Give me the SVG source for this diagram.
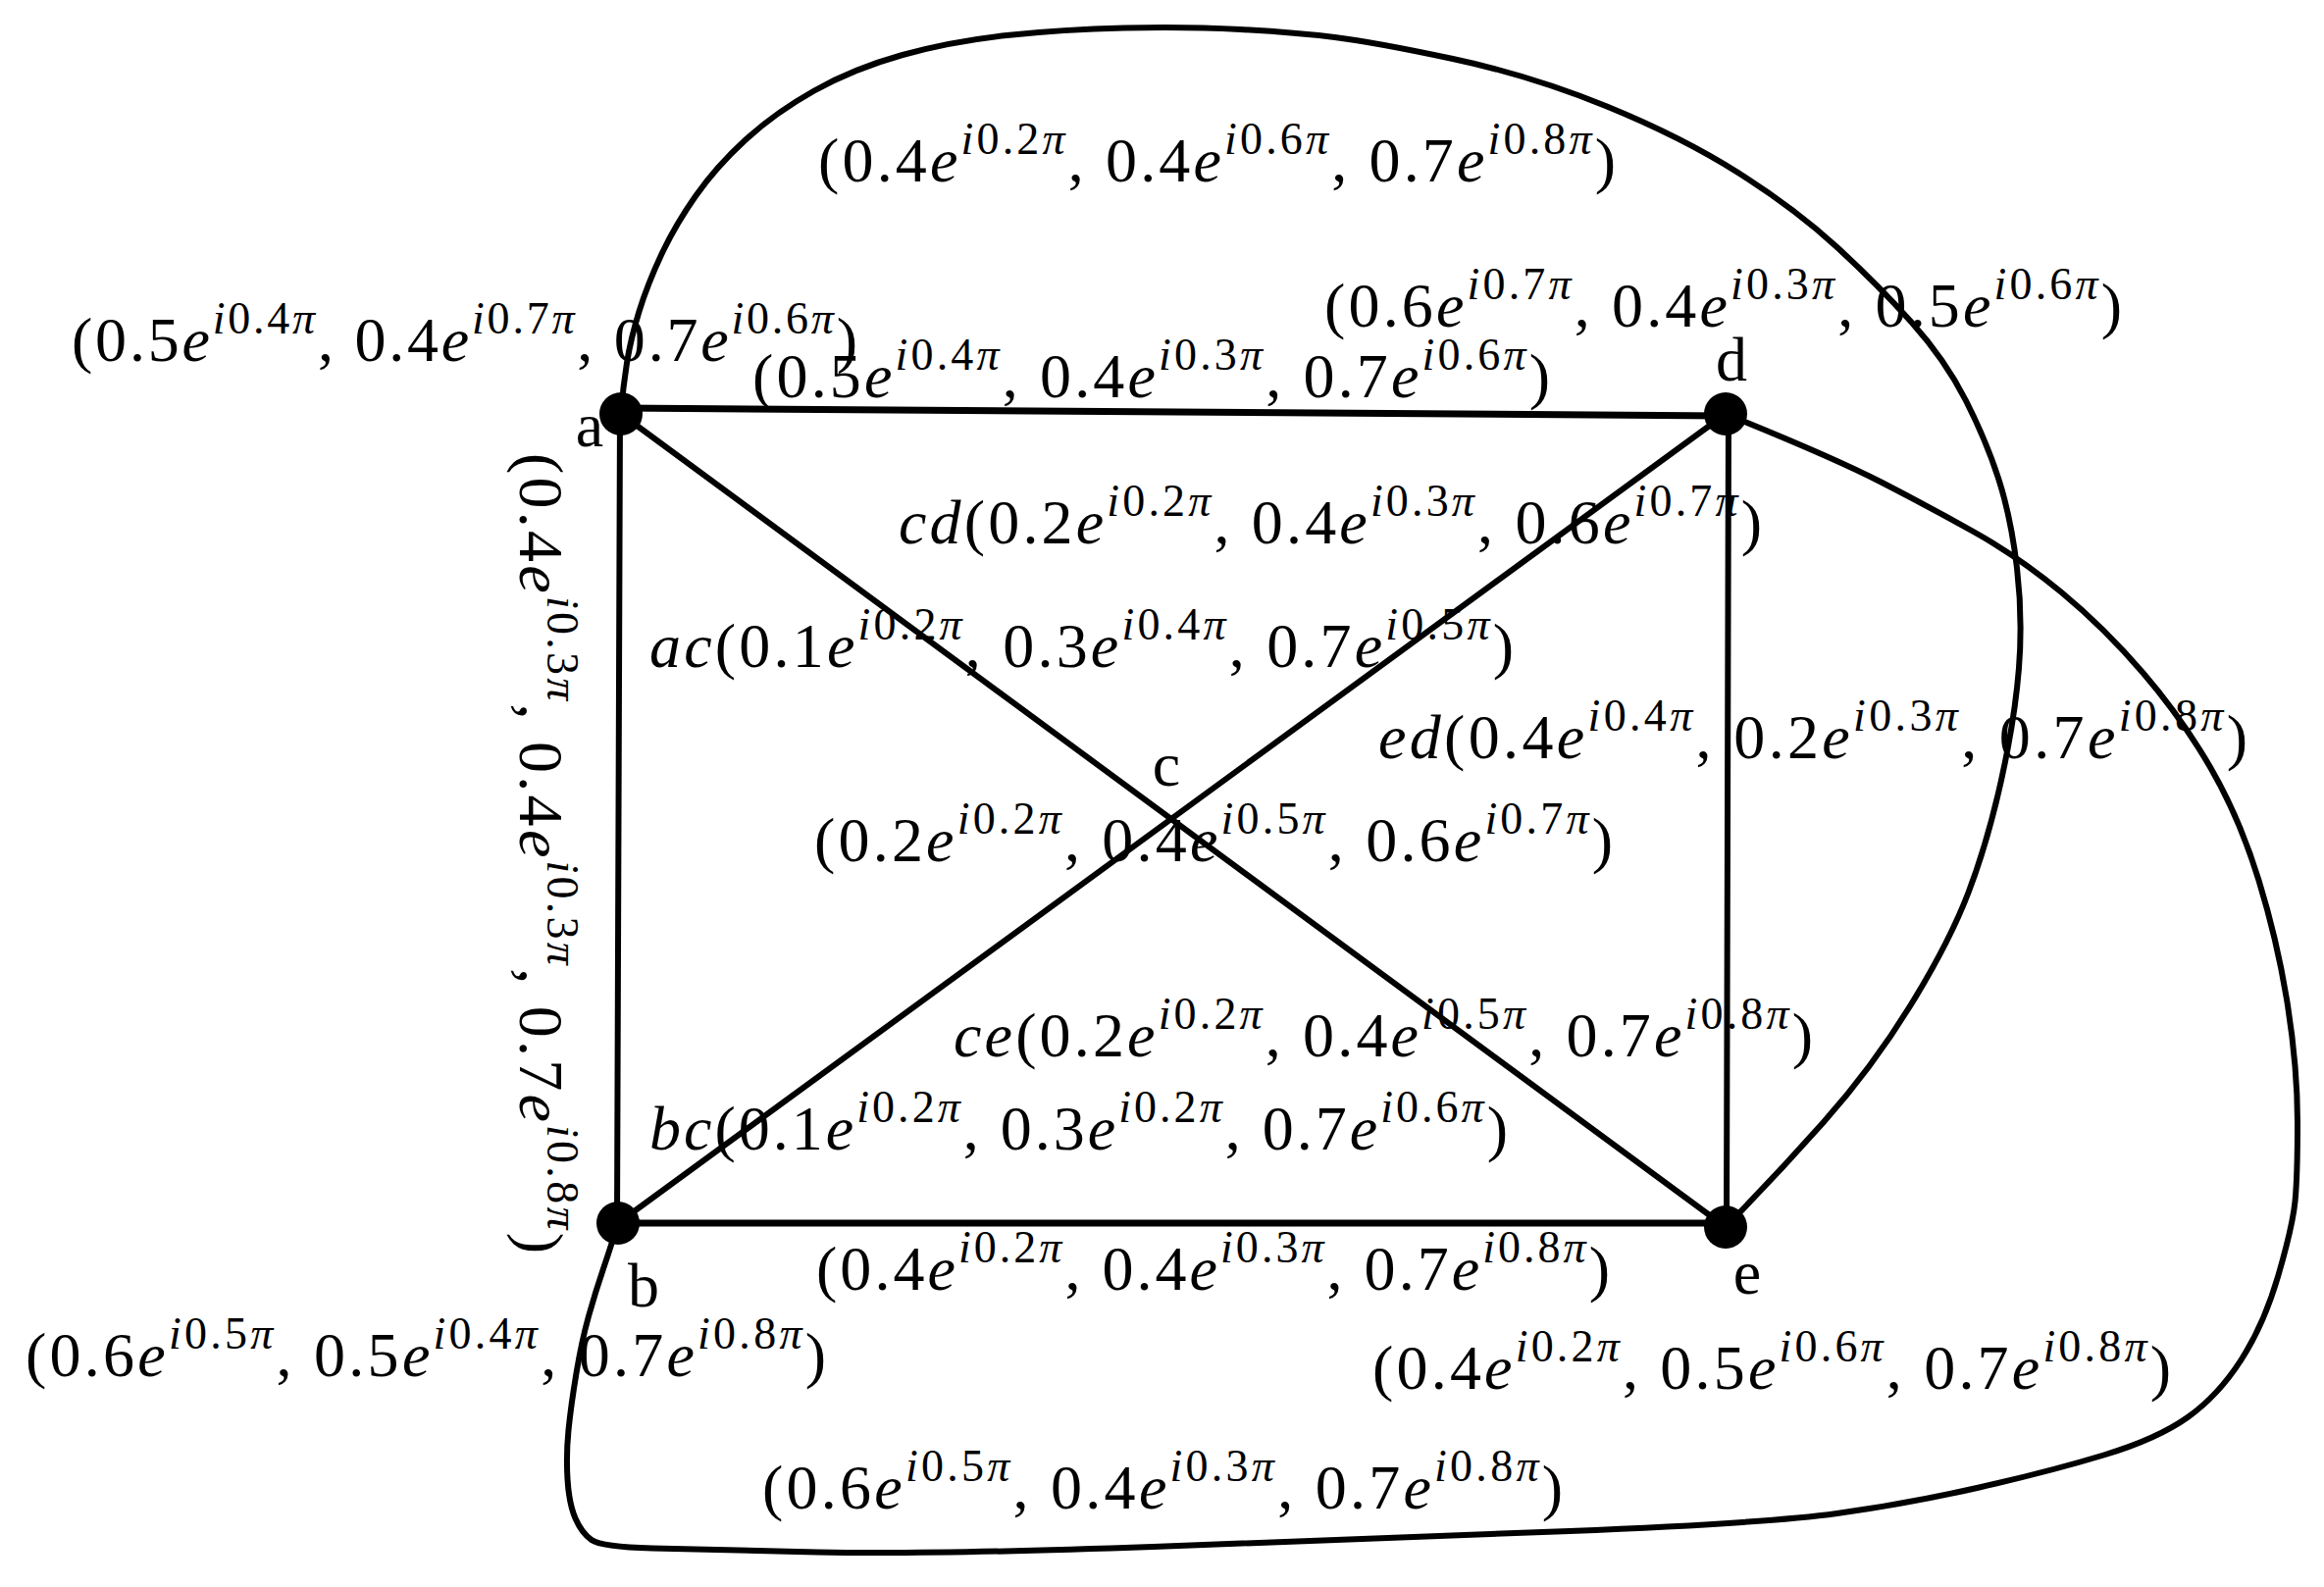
<svg xmlns="http://www.w3.org/2000/svg" width="2369" height="1618" viewBox="0 0 2369 1618">
<style>
.t{font-family:"Liberation Serif","Times New Roman",serif;font-size:64px;fill:#000}
.v{font-style:italic}
.s{font-size:46px}
.n{font-family:"Liberation Serif","Times New Roman",serif;font-size:64px;fill:#000;text-anchor:middle}
.ed{fill:none;stroke:#000;stroke-width:6;stroke-linecap:round;stroke-linejoin:round}
.dot{fill:#000}
</style>
<rect width="2369" height="1618" fill="#fff"/>
<g id="connectors">
<line class="ed" x1="633" y1="416" x2="1759" y2="424" style="stroke-width:7"/>
<line class="ed" x1="632" y1="422" x2="629" y2="1247"/>
<line class="ed" x1="630" y1="1247" x2="1759" y2="1247" style="stroke-width:7"/>
<line class="ed" x1="1762" y1="422" x2="1760" y2="1251"/>
<line class="ed" x1="633" y1="422" x2="1759" y2="1251"/>
<line class="ed" x1="630" y1="1247" x2="1759" y2="422"/>
<path class="ed" d="M633,422 Q635,395 639,370 T651.5,317.5 T674,260 T709,200 T760,142.5 T830,92.5 T920,56 T1026.5,36 T1146,28.5 T1264.5,30 T1360.5,38 T1481,60 T1638,108.5 T1772.5,176.5 T1872,251.5 T1948.5,328.5 T2004,408.5 T2037.5,489 T2056,579 T2058,681 T2040,795.5 T2006.5,910 T1947.5,1025 T1858.5,1144.5 T1759,1251"/>
<path class="ed" d="M1759,422 Q1868,466 1917.5,491.5 T2012.5,542.5 T2101.5,604 T2184.5,686 T2253.5,783 T2302.5,897.5 T2332,1025 T2342,1144.5 T2339.5,1225 T2322.5,1300 T2284.5,1386.5 T2230,1445 T2144.5,1483.5 T2017.5,1516.5 T1872.5,1543 T1600,1561 T1175,1577 T833.5,1582.5 T665,1578.5 T603,1570 T586.5,1548 T578.5,1508 T579.5,1458 T587.5,1400 T600,1342 T615,1293.5 T630,1247"/>
</g>
<g id="edge-labels">
<text class="t" x="834" y="185" textLength="813" lengthAdjust="spacing">(0.4<tspan class="v">e</tspan><tspan class="s" dy="-28"><tspan class="v">i</tspan>0.2<tspan class="v">π</tspan></tspan><tspan dy="28">,</tspan> 0.4<tspan class="v">e</tspan><tspan class="s" dy="-28"><tspan class="v">i</tspan>0.6<tspan class="v">π</tspan></tspan><tspan dy="28">,</tspan> 0.7<tspan class="v">e</tspan><tspan class="s" dy="-28"><tspan class="v">i</tspan>0.8<tspan class="v">π</tspan></tspan><tspan dy="28">)</tspan></text>
<text class="t" x="767" y="405" textLength="813" lengthAdjust="spacing">(0.5<tspan class="v">e</tspan><tspan class="s" dy="-28"><tspan class="v">i</tspan>0.4<tspan class="v">π</tspan></tspan><tspan dy="28">,</tspan> 0.4<tspan class="v">e</tspan><tspan class="s" dy="-28"><tspan class="v">i</tspan>0.3<tspan class="v">π</tspan></tspan><tspan dy="28">,</tspan> 0.7<tspan class="v">e</tspan><tspan class="s" dy="-28"><tspan class="v">i</tspan>0.6<tspan class="v">π</tspan></tspan><tspan dy="28">)</tspan></text>
<text class="t" x="916" y="554" textLength="880" lengthAdjust="spacing"><tspan class="v">cd</tspan>(0.2<tspan class="v">e</tspan><tspan class="s" dy="-28"><tspan class="v">i</tspan>0.2<tspan class="v">π</tspan></tspan><tspan dy="28">,</tspan> 0.4<tspan class="v">e</tspan><tspan class="s" dy="-28"><tspan class="v">i</tspan>0.3<tspan class="v">π</tspan></tspan><tspan dy="28">,</tspan> 0.6<tspan class="v">e</tspan><tspan class="s" dy="-28"><tspan class="v">i</tspan>0.7<tspan class="v">π</tspan></tspan><tspan dy="28">)</tspan></text>
<text class="t" x="662" y="680" textLength="881" lengthAdjust="spacing"><tspan class="v">ac</tspan>(0.1<tspan class="v">e</tspan><tspan class="s" dy="-28"><tspan class="v">i</tspan>0.2<tspan class="v">π</tspan></tspan><tspan dy="28">,</tspan> 0.3<tspan class="v">e</tspan><tspan class="s" dy="-28"><tspan class="v">i</tspan>0.4<tspan class="v">π</tspan></tspan><tspan dy="28">,</tspan> 0.7<tspan class="v">e</tspan><tspan class="s" dy="-28"><tspan class="v">i</tspan>0.5<tspan class="v">π</tspan></tspan><tspan dy="28">)</tspan></text>
<text class="t" x="1405" y="773" textLength="886" lengthAdjust="spacing"><tspan class="v">ed</tspan>(0.4<tspan class="v">e</tspan><tspan class="s" dy="-28"><tspan class="v">i</tspan>0.4<tspan class="v">π</tspan></tspan><tspan dy="28">,</tspan> 0.2<tspan class="v">e</tspan><tspan class="s" dy="-28"><tspan class="v">i</tspan>0.3<tspan class="v">π</tspan></tspan><tspan dy="28">,</tspan> 0.7<tspan class="v">e</tspan><tspan class="s" dy="-28"><tspan class="v">i</tspan>0.8<tspan class="v">π</tspan></tspan><tspan dy="28">)</tspan></text>
<text class="t" x="972" y="1077" textLength="876" lengthAdjust="spacing"><tspan class="v">ce</tspan>(0.2<tspan class="v">e</tspan><tspan class="s" dy="-28"><tspan class="v">i</tspan>0.2<tspan class="v">π</tspan></tspan><tspan dy="28">,</tspan> 0.4<tspan class="v">e</tspan><tspan class="s" dy="-28"><tspan class="v">i</tspan>0.5<tspan class="v">π</tspan></tspan><tspan dy="28">,</tspan> 0.7<tspan class="v">e</tspan><tspan class="s" dy="-28"><tspan class="v">i</tspan>0.8<tspan class="v">π</tspan></tspan><tspan dy="28">)</tspan></text>
<text class="t" x="662" y="1172" textLength="875" lengthAdjust="spacing"><tspan class="v">bc</tspan>(0.1<tspan class="v">e</tspan><tspan class="s" dy="-28"><tspan class="v">i</tspan>0.2<tspan class="v">π</tspan></tspan><tspan dy="28">,</tspan> 0.3<tspan class="v">e</tspan><tspan class="s" dy="-28"><tspan class="v">i</tspan>0.2<tspan class="v">π</tspan></tspan><tspan dy="28">,</tspan> 0.7<tspan class="v">e</tspan><tspan class="s" dy="-28"><tspan class="v">i</tspan>0.6<tspan class="v">π</tspan></tspan><tspan dy="28">)</tspan></text>
<text class="t" x="832" y="1315" textLength="809" lengthAdjust="spacing">(0.4<tspan class="v">e</tspan><tspan class="s" dy="-28"><tspan class="v">i</tspan>0.2<tspan class="v">π</tspan></tspan><tspan dy="28">,</tspan> 0.4<tspan class="v">e</tspan><tspan class="s" dy="-28"><tspan class="v">i</tspan>0.3<tspan class="v">π</tspan></tspan><tspan dy="28">,</tspan> 0.7<tspan class="v">e</tspan><tspan class="s" dy="-28"><tspan class="v">i</tspan>0.8<tspan class="v">π</tspan></tspan><tspan dy="28">)</tspan></text>
<text class="t" x="777" y="1538" textLength="816" lengthAdjust="spacing">(0.6<tspan class="v">e</tspan><tspan class="s" dy="-28"><tspan class="v">i</tspan>0.5<tspan class="v">π</tspan></tspan><tspan dy="28">,</tspan> 0.4<tspan class="v">e</tspan><tspan class="s" dy="-28"><tspan class="v">i</tspan>0.3<tspan class="v">π</tspan></tspan><tspan dy="28">,</tspan> 0.7<tspan class="v">e</tspan><tspan class="s" dy="-28"><tspan class="v">i</tspan>0.8<tspan class="v">π</tspan></tspan><tspan dy="28">)</tspan></text>
<text class="t" transform="translate(530,462) rotate(90)" x="0" y="0" textLength="816" lengthAdjust="spacing">(0.4<tspan class="v">e</tspan><tspan class="s" dy="-28"><tspan class="v">i</tspan>0.3<tspan class="v">π</tspan></tspan><tspan dy="28">,</tspan> 0.4<tspan class="v">e</tspan><tspan class="s" dy="-28"><tspan class="v">i</tspan>0.3<tspan class="v">π</tspan></tspan><tspan dy="28">,</tspan> 0.7<tspan class="v">e</tspan><tspan class="s" dy="-28"><tspan class="v">i</tspan>0.8<tspan class="v">π</tspan></tspan><tspan dy="28">)</tspan></text>
</g>
<g id="node-a">
<circle class="dot" cx="633" cy="422" r="22"/>
<text class="n" x="601" y="455">a</text>
<text class="t" x="73" y="368" textLength="801" lengthAdjust="spacing">(0.5<tspan class="v">e</tspan><tspan class="s" dy="-28"><tspan class="v">i</tspan>0.4<tspan class="v">π</tspan></tspan><tspan dy="28">,</tspan> 0.4<tspan class="v">e</tspan><tspan class="s" dy="-28"><tspan class="v">i</tspan>0.7<tspan class="v">π</tspan></tspan><tspan dy="28">,</tspan> 0.7<tspan class="v">e</tspan><tspan class="s" dy="-28"><tspan class="v">i</tspan>0.6<tspan class="v">π</tspan></tspan><tspan dy="28">)</tspan></text>
</g>
<g id="node-b">
<circle class="dot" cx="630" cy="1247" r="22"/>
<text class="n" x="656" y="1332">b</text>
<text class="t" x="26" y="1403" textLength="816" lengthAdjust="spacing">(0.6<tspan class="v">e</tspan><tspan class="s" dy="-28"><tspan class="v">i</tspan>0.5<tspan class="v">π</tspan></tspan><tspan dy="28">,</tspan> 0.5<tspan class="v">e</tspan><tspan class="s" dy="-28"><tspan class="v">i</tspan>0.4<tspan class="v">π</tspan></tspan><tspan dy="28">,</tspan> 0.7<tspan class="v">e</tspan><tspan class="s" dy="-28"><tspan class="v">i</tspan>0.8<tspan class="v">π</tspan></tspan><tspan dy="28">)</tspan></text>
</g>
<g id="node-c">
<text class="n" x="1189" y="801">c</text>
<text class="t" x="830" y="878" textLength="814" lengthAdjust="spacing">(0.2<tspan class="v">e</tspan><tspan class="s" dy="-28"><tspan class="v">i</tspan>0.2<tspan class="v">π</tspan></tspan><tspan dy="28">,</tspan> 0.4<tspan class="v">e</tspan><tspan class="s" dy="-28"><tspan class="v">i</tspan>0.5<tspan class="v">π</tspan></tspan><tspan dy="28">,</tspan> 0.6<tspan class="v">e</tspan><tspan class="s" dy="-28"><tspan class="v">i</tspan>0.7<tspan class="v">π</tspan></tspan><tspan dy="28">)</tspan></text>
</g>
<g id="node-d">
<circle class="dot" cx="1759" cy="422" r="22"/>
<text class="n" x="1765" y="388">d</text>
<text class="t" x="1350" y="333" textLength="813" lengthAdjust="spacing">(0.6<tspan class="v">e</tspan><tspan class="s" dy="-28"><tspan class="v">i</tspan>0.7<tspan class="v">π</tspan></tspan><tspan dy="28">,</tspan> 0.4<tspan class="v">e</tspan><tspan class="s" dy="-28"><tspan class="v">i</tspan>0.3<tspan class="v">π</tspan></tspan><tspan dy="28">,</tspan> 0.5<tspan class="v">e</tspan><tspan class="s" dy="-28"><tspan class="v">i</tspan>0.6<tspan class="v">π</tspan></tspan><tspan dy="28">)</tspan></text>
</g>
<g id="node-e">
<circle class="dot" cx="1759" cy="1251" r="22"/>
<text class="n" x="1781" y="1319">e</text>
<text class="t" x="1399" y="1416" textLength="814" lengthAdjust="spacing">(0.4<tspan class="v">e</tspan><tspan class="s" dy="-28"><tspan class="v">i</tspan>0.2<tspan class="v">π</tspan></tspan><tspan dy="28">,</tspan> 0.5<tspan class="v">e</tspan><tspan class="s" dy="-28"><tspan class="v">i</tspan>0.6<tspan class="v">π</tspan></tspan><tspan dy="28">,</tspan> 0.7<tspan class="v">e</tspan><tspan class="s" dy="-28"><tspan class="v">i</tspan>0.8<tspan class="v">π</tspan></tspan><tspan dy="28">)</tspan></text>
</g>
</svg>
